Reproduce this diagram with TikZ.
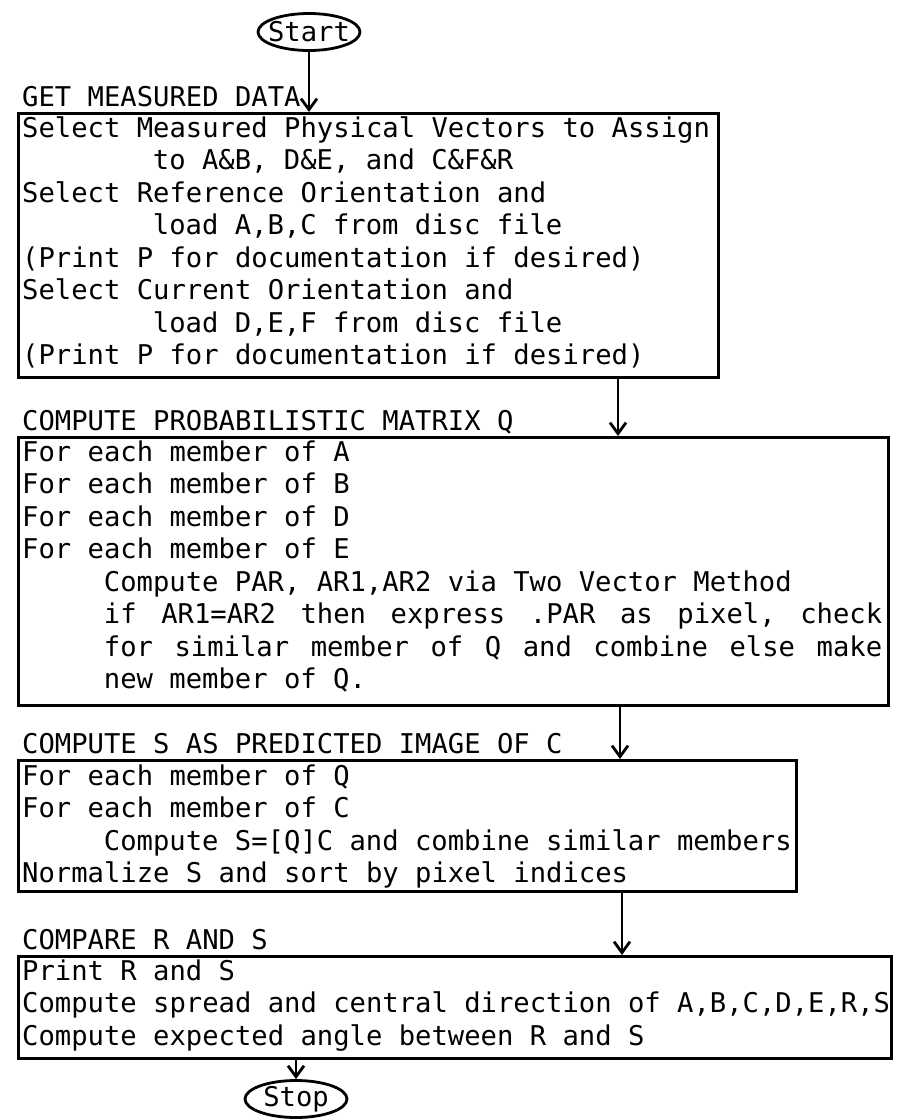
\documentclass[tikz,border=0pt]{standalone}
\usepackage{fontspec}
\setmonofont{DejaVu Sans Mono}
\usetikzlibrary{arrows.meta,shapes.geometric}
\newlength{\cw}\setlength{\cw}{16.35pt}
\newcommand{\ind}[1]{\hspace*{#1\cw}}
\newcommand{\tw}{\ttfamily\fontsize{27.2pt}{32.5pt}\selectfont}
\newcommand{\tm}[1]{\makebox[30pt][c]{#1}}
\begin{document}
\begin{tikzpicture}[x=1pt,y=-1pt,
  box/.style={draw, line width=2.8pt, rectangle, inner sep=0pt, anchor=north west},
  txt/.style={font=\tw, align=left, inner sep=0pt, anchor=base west},
  lbl/.style={font=\tw, inner sep=0pt, anchor=base west},
  term/.style={draw, ellipse, line width=2.8pt, font=\tw, inner sep=0pt, minimum width=102pt, minimum height=37pt},
  arr/.style={line width=2.8pt, -{Straight Barb[length=11pt,width=16pt,line width=2.8pt]}}]
\useasboundingbox (0,0) rectangle (897,1120);

% terminals
\node[term] (start) at (309,32) {\tm{Start}};
\node[term] (stop) at (296,1099) {\tm{Stop}};

% labels
\node[lbl] (l1) at (22,106) {GET MEASURED DATA};
\node[lbl] (l2) at (22,430) {COMPUTE PROBABILISTIC MATRIX Q};
\node[lbl] (l3) at (22,753) {COMPUTE S AS PREDICTED IMAGE OF C};
\node[lbl] (l4) at (22,949) {COMPARE R AND S};

% boxes
\node[box, minimum width=700pt, minimum height=264pt] (b1) at (17,112) {};
\node[box, minimum width=870pt, minimum height=268pt] (b2) at (17,436) {};
\node[box, minimum width=778pt, minimum height=131pt] (b3) at (17,759) {};
\node[box, minimum width=873pt, minimum height=102pt] (b4) at (17,955) {};

% box texts (anchored at the baseline of their last line)
\node[txt] (t1) at (22,364.5) {Select Measured Physical Vectors to Assign\\
\ind{8}to A\&B, D\&E, and C\&F\&R\\
Select Reference Orientation and\\
\ind{8}load A,B,C from disc file\\
(Print P for documentation if desired)\\
Select Current Orientation and\\
\ind{8}load D,E,F from disc file\\
(Print P for documentation if desired)};

\node[txt] (t2) at (22,688.5) {For each member of A\\
For each member of B\\
For each member of D\\
For each member of E\\
\ind{5}Compute PAR, AR1,AR2 via Two Vector Method\\
\ind{5}\makebox[47.6\cw][s]{if\hfill AR1=AR2\hfill then\hfill express\hfill .PAR\hfill as\hfill pixel,\hfill check}\\
\ind{5}\makebox[47.6\cw][s]{for\hfill similar\hfill member\hfill of\hfill Q\hfill and\hfill combine\hfill else\hfill make}\\
\ind{5}new member of Q.};

\node[txt] (t3) at (22,882.5) {For each member of Q\\
For each member of C\\
\ind{5}Compute S=[Q]C and combine similar members\\
Normalize S and sort by pixel indices};

\node[txt] (t4) at (22,1045) {Print R and S\\
Compute spread and central direction of A,B,C,D,E,R,S\\
Compute expected angle between R and S};

% connectors
\coordinate (c2) at (618,0);
\coordinate (c3) at (620,0);
\coordinate (c4) at (622,0);
\draw[arr] (start.south) -- (start.south |- b1.north);
\draw[arr] (b1.south -| c2) -- (b2.north -| c2);
\draw[arr] (b2.south -| c3) -- (b3.north -| c3);
\draw[arr] (b3.south -| c4) -- (b4.north -| c4);
\draw[arr] (b4.south -| stop.north) -- (stop.north);
\end{tikzpicture}
\end{document}
